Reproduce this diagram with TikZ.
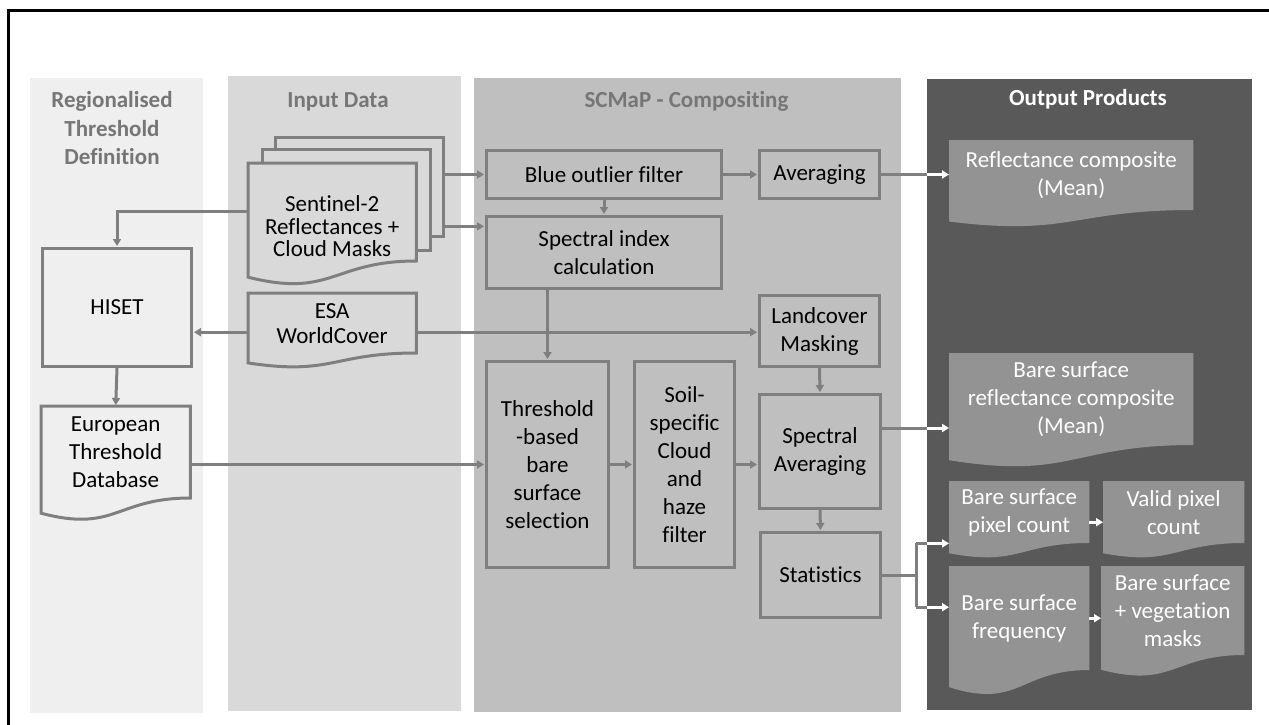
\documentclass[tikz,border=0pt]{standalone}
\usepackage{fontspec}
\setmainfont{Carlito}[Ligatures=NoCommon]
\usetikzlibrary{arrows.meta,calc}
\definecolor{pA}{HTML}{EFEFEF}
\definecolor{pB}{HTML}{D9D9D9}
\definecolor{pC}{HTML}{BFBFBF}
\definecolor{pD}{HTML}{595959}
\definecolor{lc}{HTML}{7F7F7F}
\definecolor{ttl}{HTML}{767676}
\definecolor{of}{HTML}{939393}
\pgfdeclarelayer{panels}
\pgfdeclarelayer{shapes}
\pgfsetlayers{panels,shapes,main}
\newcommand\docshp[3]{%
  \path[#3] (#1.north west) -- (#1.north east) -- ($(#1.north east)+(0,#2)$)
    .. controls ($(#1.north)+(0,#2)$) and ($(#1.north)+(0,#2*1.38)$) ..
    ($(#1.north west)+(0,#2*1.165)$) -- cycle;}
\begin{document}
\begin{tikzpicture}[x=1pt,y=-1pt,
  txt/.style={font=\fontsize{23}{28}\selectfont},
  box/.style={draw=lc, line width=3pt, inner sep=0pt, anchor=north west, align=center, txt, fill=pC},
  dnode/.style={inner sep=0pt, anchor=north west, align=center, txt},
  onode/.style={dnode, text=white},
  ln/.style={draw=lc, line width=3pt},
  arr/.style={draw=lc, line width=3pt, -{Triangle[length=7pt,width=8pt]}, shorten >=1pt},
  warr/.style={draw=white, line width=3pt, -{Triangle[length=7pt,width=8pt]}},
  ttlst/.style={font=\bfseries\fontsize{23}{28.5}\selectfont, text=ttl, align=center},
  panel/.style={inner sep=0pt, anchor=north west, draw=none}
]
\useasboundingbox (0,0) rectangle (1269,725);

% panels
\begin{pgfonlayer}{panels}
\fill[white] (0,0) rectangle (1269,725);
\node[panel, fill=pA, minimum width=173pt, minimum height=635pt] (pnl1) at (30,78) {};
\node[panel, fill=pB, minimum width=233pt, minimum height=635pt] (pnl2) at (228,76) {};
\node[panel, fill=pC, minimum width=427pt, minimum height=634pt] (pnl3) at (474,78) {};
\node[panel, fill=pD, minimum width=325pt, minimum height=631pt] (pnl4) at (927,79) {};
\end{pgfonlayer}

% frame
\draw[line width=3pt, black] (8,725) -- (8,11) -- (1269,11);

% titles
\node[ttlst] (t1) at (112,128.5) {Regionalised\\Threshold\\Definition};
\node[ttlst] (t2) at (338,102) {Input Data};
\node[ttlst] (t3) at (686.5,101) {SCMaP - Compositing};
\node[ttlst, text=white] (t4) at (1088,99) {Output Products};

% left column
\node[box, fill=pA, minimum width=149pt, minimum height=118pt] (hiset) at (41,247) {HISET};
\node[dnode, minimum width=149pt, minimum height=92pt] (etd) at (41,406) {European\\Threshold\\Database};

% input data
\node[dnode, minimum width=168pt, minimum height=99pt] (s2c) at (275,137) {};
\node[dnode, minimum width=168pt, minimum height=101pt] (s2b) at (262,149) {};
\node[dnode, minimum width=168pt, minimum height=126pt, font=\fontsize{23}{22.5}\selectfont] (s2) at (248,163) {Sentinel-2\\Reflectances +\\Cloud Masks};
\node[dnode, minimum width=168pt, minimum height=60pt, font=\fontsize{23}{25}\selectfont] (esa) at (248,293) {ESA\\WorldCover};

% compositing
\node[box, minimum width=235pt, minimum height=48pt] (bof) at (485,149) {Blue outlier filter};
\node[box, minimum width=120pt, minimum height=48pt] (avg) at (758,149) {Averaging};
\node[box, minimum width=235pt, minimum height=72pt] (sic) at (485,215) {Spectral index\\calculation};
\node[box, minimum width=120pt, minimum height=71pt] (lcm) at (758,294) {Landcover\\Masking};
\node[box, minimum width=122pt, minimum height=206pt] (tbs) at (485,360) {Threshold\\-based\\bare\\surface\\selection};
\node[box, minimum width=100pt, minimum height=206pt] (soil) at (633,360) {Soil-\\specific\\Cloud\\and\\haze\\filter};
\node[box, minimum width=121pt, minimum height=114pt] (spa) at (758,393) {Spectral\\Averaging};
\node[box, minimum width=120pt, minimum height=85pt] (stat) at (759,531) {Statistics};

% outputs
\node[onode, minimum width=244pt, minimum height=70pt] (rc) at (949,140) {Reflectance composite\\(Mean)};
\node[onode, minimum width=244pt, minimum height=92pt] (bsr) at (949,353) {Bare surface\\reflectance composite\\(Mean)};
\node[onode, minimum width=140pt, minimum height=62pt] (bpc) at (949,481) {Bare surface\\pixel count};
\node[onode, minimum width=141pt, minimum height=62pt] (vpc) at (1103,481) {Valid pixel\\count};
\node[onode, minimum width=140pt, minimum height=104pt] (bsf) at (949,566) {Bare surface\\frequency};
\node[onode, minimum width=143pt, minimum height=89pt] (bvm) at (1101,566) {Bare surface\\+ vegetation\\masks};

% document shapes
\begin{pgfonlayer}{shapes}
\path[draw=lc, line width=3pt, fill=pB] (s2c.north west) rectangle (s2c.south east);
\path[draw=lc, line width=3pt, fill=pB] (s2b.north west) rectangle (s2b.south east);
\docshp{s2}{98}{draw=lc, line width=3pt, fill=pB}
\docshp{esa}{60}{draw=lc, line width=3pt, fill=pB}
\docshp{etd}{92}{draw=lc, line width=3pt, fill=pA}
\docshp{rc}{70}{fill=of}
\docshp{bsr}{92}{fill=of}
\docshp{bpc}{62}{fill=of}
\docshp{vpc}{62}{fill=of}
\docshp{bsf}{104}{fill=of}
\docshp{bvm}{89}{fill=of}
\end{pgfonlayer}

% connectors
\coordinate (s2L) at ($(s2.north west)+(0,48)$);
\draw[arr] (s2L) -| (hiset.north);
\coordinate (esaL) at ($(esa.west)+(0,9)$);
\coordinate (esaR) at ($(esa.east)+(0,9)$);
\draw[arr] (esaL) -- (esaL -| hiset.east);
\draw[arr] (esaR) -- (esaR -| lcm.west);
\draw[arr] (hiset.south) -- (etd.north);
\draw[arr] (tbs.west -| etd.east) -- (tbs.west);
\draw[arr] (bof.west -| s2c.east) -- (bof.west);
\coordinate (s2R) at ($(s2c.south east)+(0,-10)$);
\draw[arr] (s2R) -- (s2R -| sic.west);
\draw[arr] (bof) -- (avg);
\draw[arr] (bof.south) -- (sic.north);
\draw[arr] (sic.south -| tbs.north) -- (tbs.north);
\draw[arr] (tbs.east) -- (soil.west);
\draw[arr] (soil.east) -- (soil.east -| spa.west);
\draw[arr] (lcm.south) -- (spa.north);
\draw[arr] (spa.south) -- (stat.north);

% into output panel
\draw[ln] (avg.east) -- (avg.east -| pnl4.west);
\draw[warr] (avg.east -| pnl4.west) -- (avg.east -| rc.west);
\coordinate (spaR) at ($(spa.north east)+(0,35)$);
\draw[ln] (spaR) -- (spaR -| pnl4.west);
\draw[warr] (spaR -| pnl4.west) -- (spaR -| bsr.west);
\coordinate (fork) at ($(stat.east)+(34,0)$);
\coordinate (bsfA) at ($(bsf.west)+(0,-11)$);
\draw[ln] (stat.east) -- (fork);
\draw[ln] (fork |- bpc.south west) -- (fork |- bsfA);
\draw[ln] (fork |- bpc.south west) -- (pnl4.west |- bpc.south west);
\draw[ln] (fork |- bsfA) -- (pnl4.west |- bsfA);
\draw[warr] (pnl4.west |- bpc.south west) -- (bpc.south west);
\draw[warr] (pnl4.west |- bsfA) -- (bsfA);
\coordinate (bpcR) at ($(bpc.east)+(0,10)$);
\draw[warr] (bpcR) -- (bpcR -| vpc.west);
\draw[warr] (bsf.east) -- (bsf.east -| bvm.west);
\end{tikzpicture}
\end{document}
